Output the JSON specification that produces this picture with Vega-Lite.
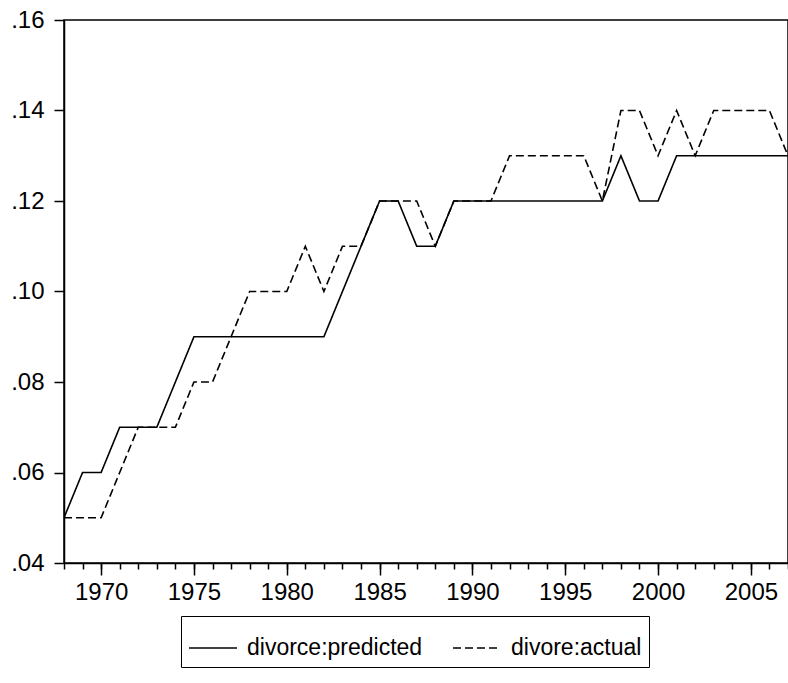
{
  "$schema": "https://vega.github.io/schema/vega-lite/v6.json",
  "autosize": "none",
  "width": 724,
  "height": 543,
  "padding": {"left": 64, "top": 20, "right": 0, "bottom": 120},
  "background": "white",
  "config": {
    "font": "Liberation Sans",
    "view": {"stroke": "black", "strokeWidth": 1.5},
    "axis": {
      "domainColor": "black",
      "domainWidth": 1.5,
      "labelColor": "black",
      "labelFont": "Liberation Sans",
      "labelFontSize": 24,
      "grid": false,
      "title": null
    },
    "legend": {
      "labelFont": "Liberation Sans",
      "labelFontSize": 23,
      "labelColor": "black",
      "labelLimit": 0
    }
  },
  "data": {
    "values": [
      {"year": 1968, "series": "divorce:predicted", "rate": 0.05},
      {"year": 1969, "series": "divorce:predicted", "rate": 0.06},
      {"year": 1970, "series": "divorce:predicted", "rate": 0.06},
      {"year": 1971, "series": "divorce:predicted", "rate": 0.07},
      {"year": 1972, "series": "divorce:predicted", "rate": 0.07},
      {"year": 1973, "series": "divorce:predicted", "rate": 0.07},
      {"year": 1974, "series": "divorce:predicted", "rate": 0.08},
      {"year": 1975, "series": "divorce:predicted", "rate": 0.09},
      {"year": 1976, "series": "divorce:predicted", "rate": 0.09},
      {"year": 1977, "series": "divorce:predicted", "rate": 0.09},
      {"year": 1978, "series": "divorce:predicted", "rate": 0.09},
      {"year": 1979, "series": "divorce:predicted", "rate": 0.09},
      {"year": 1980, "series": "divorce:predicted", "rate": 0.09},
      {"year": 1981, "series": "divorce:predicted", "rate": 0.09},
      {"year": 1982, "series": "divorce:predicted", "rate": 0.09},
      {"year": 1983, "series": "divorce:predicted", "rate": 0.10},
      {"year": 1984, "series": "divorce:predicted", "rate": 0.11},
      {"year": 1985, "series": "divorce:predicted", "rate": 0.12},
      {"year": 1986, "series": "divorce:predicted", "rate": 0.12},
      {"year": 1987, "series": "divorce:predicted", "rate": 0.11},
      {"year": 1988, "series": "divorce:predicted", "rate": 0.11},
      {"year": 1989, "series": "divorce:predicted", "rate": 0.12},
      {"year": 1990, "series": "divorce:predicted", "rate": 0.12},
      {"year": 1991, "series": "divorce:predicted", "rate": 0.12},
      {"year": 1992, "series": "divorce:predicted", "rate": 0.12},
      {"year": 1993, "series": "divorce:predicted", "rate": 0.12},
      {"year": 1994, "series": "divorce:predicted", "rate": 0.12},
      {"year": 1995, "series": "divorce:predicted", "rate": 0.12},
      {"year": 1996, "series": "divorce:predicted", "rate": 0.12},
      {"year": 1997, "series": "divorce:predicted", "rate": 0.12},
      {"year": 1998, "series": "divorce:predicted", "rate": 0.13},
      {"year": 1999, "series": "divorce:predicted", "rate": 0.12},
      {"year": 2000, "series": "divorce:predicted", "rate": 0.12},
      {"year": 2001, "series": "divorce:predicted", "rate": 0.13},
      {"year": 2002, "series": "divorce:predicted", "rate": 0.13},
      {"year": 2003, "series": "divorce:predicted", "rate": 0.13},
      {"year": 2004, "series": "divorce:predicted", "rate": 0.13},
      {"year": 2005, "series": "divorce:predicted", "rate": 0.13},
      {"year": 2006, "series": "divorce:predicted", "rate": 0.13},
      {"year": 2007, "series": "divorce:predicted", "rate": 0.13},
      {"year": 1968, "series": "divore:actual", "rate": 0.05},
      {"year": 1969, "series": "divore:actual", "rate": 0.05},
      {"year": 1970, "series": "divore:actual", "rate": 0.05},
      {"year": 1971, "series": "divore:actual", "rate": 0.06},
      {"year": 1972, "series": "divore:actual", "rate": 0.07},
      {"year": 1973, "series": "divore:actual", "rate": 0.07},
      {"year": 1974, "series": "divore:actual", "rate": 0.07},
      {"year": 1975, "series": "divore:actual", "rate": 0.08},
      {"year": 1976, "series": "divore:actual", "rate": 0.08},
      {"year": 1977, "series": "divore:actual", "rate": 0.09},
      {"year": 1978, "series": "divore:actual", "rate": 0.10},
      {"year": 1979, "series": "divore:actual", "rate": 0.10},
      {"year": 1980, "series": "divore:actual", "rate": 0.10},
      {"year": 1981, "series": "divore:actual", "rate": 0.11},
      {"year": 1982, "series": "divore:actual", "rate": 0.10},
      {"year": 1983, "series": "divore:actual", "rate": 0.11},
      {"year": 1984, "series": "divore:actual", "rate": 0.11},
      {"year": 1985, "series": "divore:actual", "rate": 0.12},
      {"year": 1986, "series": "divore:actual", "rate": 0.12},
      {"year": 1987, "series": "divore:actual", "rate": 0.12},
      {"year": 1988, "series": "divore:actual", "rate": 0.11},
      {"year": 1989, "series": "divore:actual", "rate": 0.12},
      {"year": 1990, "series": "divore:actual", "rate": 0.12},
      {"year": 1991, "series": "divore:actual", "rate": 0.12},
      {"year": 1992, "series": "divore:actual", "rate": 0.13},
      {"year": 1993, "series": "divore:actual", "rate": 0.13},
      {"year": 1994, "series": "divore:actual", "rate": 0.13},
      {"year": 1995, "series": "divore:actual", "rate": 0.13},
      {"year": 1996, "series": "divore:actual", "rate": 0.13},
      {"year": 1997, "series": "divore:actual", "rate": 0.12},
      {"year": 1998, "series": "divore:actual", "rate": 0.14},
      {"year": 1999, "series": "divore:actual", "rate": 0.14},
      {"year": 2000, "series": "divore:actual", "rate": 0.13},
      {"year": 2001, "series": "divore:actual", "rate": 0.14},
      {"year": 2002, "series": "divore:actual", "rate": 0.13},
      {"year": 2003, "series": "divore:actual", "rate": 0.14},
      {"year": 2004, "series": "divore:actual", "rate": 0.14},
      {"year": 2005, "series": "divore:actual", "rate": 0.14},
      {"year": 2006, "series": "divore:actual", "rate": 0.14},
      {"year": 2007, "series": "divore:actual", "rate": 0.13}
    ]
  },
  "layer": [
    {
      "mark": {"type": "line", "opacity": 0, "clip": true},
      "encoding": {
        "x": {
          "field": "year",
          "type": "quantitative",
          "scale": {"domain": [1968, 2007], "nice": false, "zero": false},
          "axis": {
            "orient": "bottom",
            "zindex": 2,
            "values": [1968, 1969, 1970, 1971, 1972, 1973, 1974, 1975, 1976, 1977, 1978, 1979, 1980, 1981, 1982, 1983, 1984, 1985, 1986, 1987, 1988, 1989, 1990, 1991, 1992, 1993, 1994, 1995, 1996, 1997, 1998, 1999, 2000, 2001, 2002, 2003, 2004, 2005, 2006, 2007],
            "labels": false,
            "domain": false,
            "ticks": true,
            "tickColor": "#000000",
            "tickOpacity": 1,
            "tickWidth": 1.5,
            "tickSize": 6
          }
        },
        "y": {
          "field": "rate",
          "type": "quantitative",
          "scale": {"domain": [0.04, 0.16], "nice": false, "zero": false},
          "axis": {
            "zindex": 2,
            "values": [0.04, 0.06, 0.08, 0.10, 0.12, 0.14, 0.16],
            "labelExpr": "replace(format(datum.value, '.2f'), '0.', '.')",
            "ticks": true,
            "tickColor": "#000000",
            "tickOpacity": 1,
            "tickWidth": 1.5,
            "tickSize": 10,
            "labelPadding": 10,
            "labelFlush": false,
            "labelOverlap": false
          }
        },
        "detail": {"field": "series", "type": "nominal"}
      }
    },
    {
      "mark": {"type": "line", "color": "black", "strokeWidth": 1.6, "clip": true},
      "encoding": {
        "x": {
          "field": "year",
          "type": "quantitative",
          "scale": {"domain": [1968, 2007], "nice": false, "zero": false},
          "axis": {
            "orient": "bottom",
            "zindex": 2,
            "values": [1970, 1975, 1980, 1985, 1990, 1995, 2000, 2005],
            "format": "d",
            "ticks": true,
            "tickColor": "#000000",
            "tickOpacity": 1,
            "tickWidth": 1.5,
            "tickSize": 12,
            "labelPadding": 5,
            "labelFlush": false,
            "labelOverlap": false
          }
        },
        "y": {
          "field": "rate",
          "type": "quantitative",
          "scale": {"domain": [0.04, 0.16], "nice": false, "zero": false}
        },
        "strokeDash": {
          "field": "series",
          "type": "nominal",
          "sort": ["divorce:predicted", "divore:actual"],
          "scale": {
            "domain": ["divorce:predicted", "divore:actual"],
            "range": [[1, 0], [8, 4]]
          },
          "legend": {
            "title": null,
            "orient": "none",
            "direction": "horizontal",
            "gridAlign": "all",
            "legendX": 117,
            "legendY": 596,
            "symbolType": "stroke",
            "symbolSize": 2300,
            "symbolStrokeWidth": 1.6,
            "symbolStrokeColor": "black",
            "strokeColor": "black",
            "padding": 7,
            "columnPadding": 26,
            "labelOffset": 9
          }
        }
      }
    }
  ],
  "resolve": {"axis": {"x": "independent"}}
}
